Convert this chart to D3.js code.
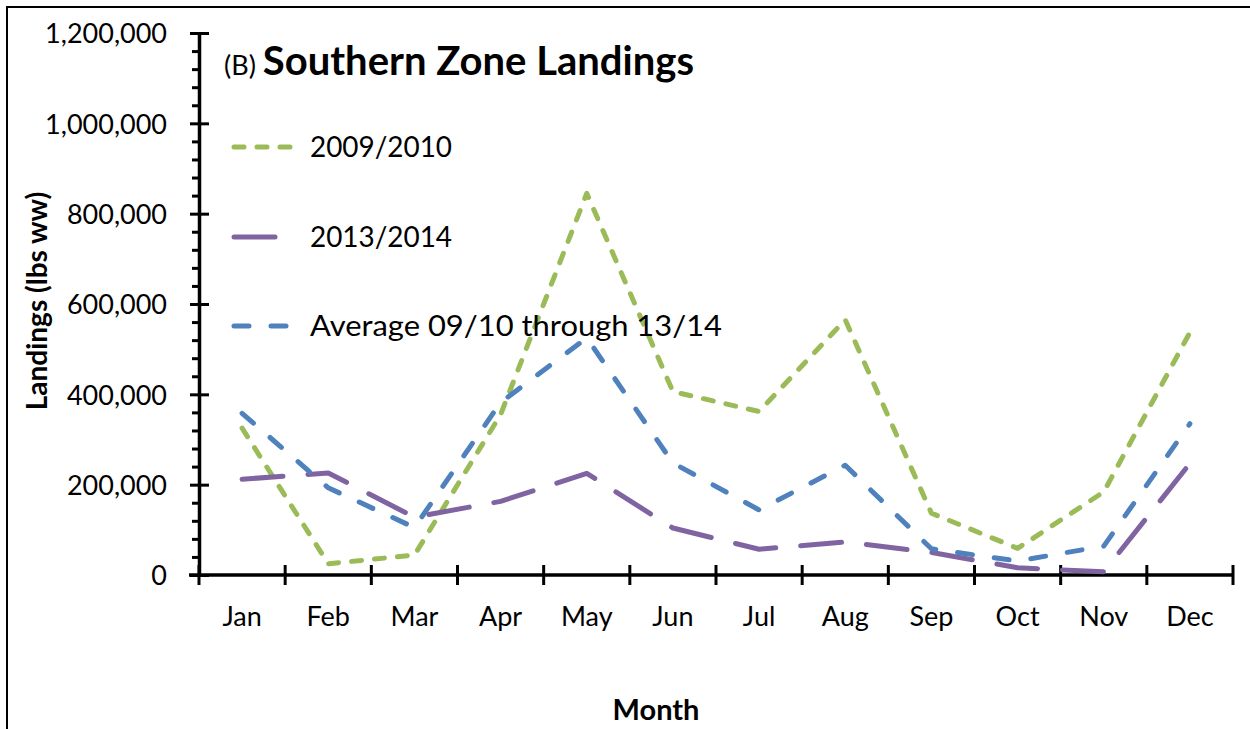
<!DOCTYPE html>
<html>
<head>
<meta charset="utf-8">
<script src="https://cdn.jsdelivr.net/npm/d3@7"></script>
<style>
  html, body { margin: 0; padding: 0; background: #fff; }
  svg { display: block; }
  text { font-family: Lato, "Open Sans", sans-serif; fill: #000; }
</style>
</head>
<body>
<svg id="chart" width="1250" height="729"></svg>
<script>
const months = ["Jan","Feb","Mar","Apr","May","Jun","Jul","Aug","Sep","Oct","Nov","Dec"];
const s2009 = [325000, 25000, 44000, 355000, 845000, 406000, 362000, 565000, 137000, 59000, 184000, 537000];
const s2013 = [212000, 226000, 128000, 163000, 225000, 104000, 57000, 73000, 50000, 16000, 7000, 247000];
const sAvg  = [358000, 193000, 105000, 382000, 525000, 248000, 144000, 243000, 58000, 31000, 64000, 335000];
const yMajorTicks = [0, 200000, 400000, 600000, 800000, 1000000, 1200000];
const seriesNames = ["2009/2010", "2013/2014", "Average 09/10 through 13/14"];

const series = [
  { name: seriesNames[0], values: s2009, color: "#9BBB59", dash: "10,13", textLen: 142 },
  { name: seriesNames[1], values: s2013, color: "#8064A2", dash: "41,25", textLen: 142 },
  { name: seriesNames[2], values: sAvg,  color: "#4F81BD", dash: "15,22", textLen: 412 }
];

const svg = d3.select("#chart");

// outer frame
svg.append("rect").attr("x", 7).attr("y", 7).attr("width", 1300).attr("height", 800)
  .attr("fill", "none").attr("stroke", "#000").attr("stroke-width", 2);

const x = d3.scaleBand().domain(months).range([199, 1233]).padding(0);
const y = d3.scaleLinear().domain([0, 1200000]).range([575, 33]);

const fmt = d3.format(",");

// minor y ticks
const minor = d3.range(0, 1200001, 40000).filter(v => v % 200000 !== 0);
const gMinor = svg.append("g").attr("transform", "translate(199,0)")
  .call(d3.axisLeft(y).tickValues(minor).tickSize(7).tickSizeOuter(0).tickFormat(""));
gMinor.select(".domain").remove();
gMinor.selectAll("line").attr("stroke", "#000").attr("stroke-width", 3);

// major y axis
const gY = svg.append("g").attr("transform", "translate(199,0)")
  .call(d3.axisLeft(y).tickValues(yMajorTicks).tickSize(9).tickSizeOuter(0).tickFormat(fmt));
gY.select(".domain").attr("stroke", "#000").attr("stroke-width", 3.5);
gY.selectAll(".tick line").attr("x1", 10).attr("x2", -9).attr("stroke", "#000").attr("stroke-width", 3);
gY.selectAll(".tick text").attr("x", -32).attr("dy", "0.36em")
  .style("font-size", "27px").style("font-family", "Lato");

// x axis
const gX = svg.append("g").attr("transform", "translate(0,575)")
  .call(d3.axisBottom(x).tickSize(0).tickSizeOuter(0));
gX.select(".domain").attr("stroke", "#000").attr("stroke-width", 3.5).attr("d", `M${x.range()[0] - 10},0H${x.range()[1]}`);
gX.selectAll(".tick text").attr("y", 51).attr("dy", 0)
  .style("font-size", "27px").style("font-family", "Lato");
const bounds = months.map(m => x(m)).concat([x.range()[1]]);
gX.selectAll("line.bound").data(bounds).enter().append("line").attr("class", "bound")
  .attr("x1", d => d).attr("x2", d => d).attr("y1", -10).attr("y2", 10)
  .attr("stroke", "#000").attr("stroke-width", 3);

// lines
const line = d3.line()
  .x((d, i) => x(months[i]) + x.bandwidth() / 2)
  .y(d => y(d));

series.forEach(s => {
  svg.append("path").datum(s.values)
    .attr("d", line)
    .attr("fill", "none")
    .attr("stroke", s.color)
    .attr("stroke-width", 5)
    .attr("stroke-linecap", "round")
    .attr("stroke-linejoin", "round")
    .attr("stroke-dasharray", s.dash);
});

// legend
const legY = [147, 237, 326];
series.forEach((s, i) => {
  svg.append("line").attr("x1", 234).attr("x2", 299).attr("y1", legY[i]).attr("y2", legY[i])
    .attr("stroke", s.color).attr("stroke-width", 5).attr("stroke-linecap", "round")
    .attr("stroke-dasharray", s.dash);
  svg.append("text").attr("x", 310).attr("y", legY[i] + 10)
    .attr("textLength", s.textLen).attr("lengthAdjust", "spacingAndGlyphs")
    .style("font-size", "28px").text(s.name);
});

// title
const title = svg.append("text").attr("x", 224).attr("y", 75);
title.append("tspan").style("font-size", "27px").text("(B) ");
title.append("tspan").style("font-size", "40px").style("font-weight", "bold").text("Southern Zone Landings");

// axis titles
svg.append("text").attr("transform", "translate(47,301) rotate(-90)")
  .attr("text-anchor", "middle").style("font-size", "28px").style("font-weight", "bold")
  .text("Landings (lbs ww)");
svg.append("text").attr("x", 656).attr("y", 720).attr("text-anchor", "middle")
  .style("font-size", "29px").style("font-weight", "bold").text("Month");
</script>
</body>
</html>
